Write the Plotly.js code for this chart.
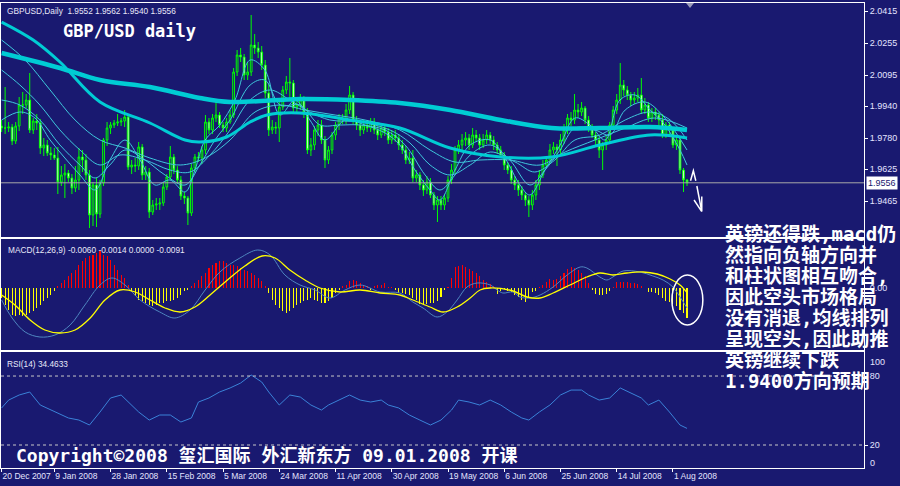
<!DOCTYPE html>
<html><head><meta charset="utf-8">
<script src="https://cdn.plot.ly/plotly-3.0.1.min.js"></script>
<style>html,body{margin:0;padding:0;background:#191970;}#chart{width:900px;height:486px;}</style>
</head><body><div id="chart"></div>
<script>
// ---------- DATA ----------
const openPrice = [1.9840,1.9830,1.9830,1.9835,1.9765,1.9840,1.9945,1.9945,1.9970,1.9820,
1.9865,1.9855,1.9730,1.9745,1.9705,1.9695,1.9680,1.9560,1.9595,1.9605,
1.9580,1.9530,1.9570,1.9685,1.9670,1.9595,1.9395,1.9545,1.9400,1.9555,
1.9770,1.9830,1.9845,1.9855,1.9860,1.9865,1.9885,1.9635,1.9645,1.9640,
1.9735,1.9595,1.9610,1.9410,1.9445,1.9450,1.9455,1.9535,1.9585,1.9685,
1.9620,1.9570,1.9490,1.9480,1.9405,1.9630,1.9685,1.9680,1.9720,1.9860,
1.9820,1.9880,1.9895,1.9845,1.9830,1.9860,1.9895,2.0110,2.0195,2.0185,
2.0095,2.0110,2.0245,2.0230,2.0210,2.0145,2.0005,1.9820,1.9835,1.9830,
1.9935,2.0020,2.0060,2.0055,1.9930,1.9945,1.9970,1.9910,1.9720,1.9745,
1.9820,1.9845,1.9770,1.9670,1.9720,1.9795,1.9845,1.9880,1.9870,1.9920,
1.9995,1.9870,1.9845,1.9820,1.9845,1.9830,1.9860,1.9820,1.9795,1.9830,
1.9810,1.9770,1.9795,1.9780,1.9745,1.9720,1.9670,1.9680,1.9580,1.9595,
1.9545,1.9520,1.9560,1.9495,1.9445,1.9470,1.9445,1.9480,1.9570,1.9620,
1.9720,1.9745,1.9770,1.9780,1.9745,1.9795,1.9780,1.9745,1.9770,1.9795,
1.9770,1.9745,1.9720,1.9695,1.9645,1.9620,1.9570,1.9545,1.9520,1.9495,
1.9470,1.9445,1.9495,1.9545,1.9595,1.9645,1.9670,1.9720,1.9735,1.9720,
1.9770,1.9820,1.9880,1.9870,1.9920,1.9910,1.9930,1.9870,1.9830,1.9795,
1.9770,1.9720,1.9745,1.9770,1.9845,1.9920,1.9970,2.0045,2.0020,1.9995,
1.9970,1.9980,1.9995,1.9920,1.9945,1.9880,1.9910,1.9895,1.9870,1.9795,
1.9845,1.9820,1.9745,1.9770,1.9620,1.9570];
const highPrice = [1.9870,2.0035,1.9860,1.9850,1.9860,1.9985,2.0010,2.0000,2.0105,1.9880,
1.9900,1.9875,1.9780,1.9770,1.9735,1.9730,1.9735,1.9640,1.9650,1.9620,
1.9600,1.9640,1.9730,1.9720,1.9700,1.9620,1.9560,1.9580,1.9570,1.9780,
1.9860,1.9860,1.9870,1.9900,1.9880,1.9920,1.9900,1.9670,1.9680,1.9760,
1.9750,1.9640,1.9630,1.9470,1.9480,1.9480,1.9560,1.9600,1.9740,1.9700,
1.9640,1.9590,1.9510,1.9490,1.9650,1.9700,1.9710,1.9740,1.9895,1.9880,
1.9900,1.9960,1.9910,1.9860,1.9880,1.9920,2.0130,2.0220,2.0230,2.0200,
2.0160,2.0395,2.0300,2.0260,2.0240,2.0170,2.0050,1.9870,1.9860,1.9960,
2.0040,2.0090,2.0180,2.0070,1.9980,2.0000,1.9990,1.9930,1.9780,1.9840,
1.9870,1.9870,1.9790,1.9740,1.9810,1.9860,1.9900,1.9900,1.9950,2.0040,
2.0010,1.9890,1.9870,1.9870,1.9870,1.9880,1.9880,1.9840,1.9850,1.9850,
1.9830,1.9820,1.9820,1.9800,1.9770,1.9740,1.9710,1.9720,1.9620,1.9610,
1.9570,1.9590,1.9580,1.9510,1.9490,1.9490,1.9500,1.9590,1.9650,1.9740,
1.9770,1.9800,1.9810,1.9800,1.9830,1.9820,1.9800,1.9800,1.9820,1.9810,
1.9790,1.9760,1.9740,1.9710,1.9660,1.9640,1.9590,1.9570,1.9540,1.9510,
1.9490,1.9520,1.9570,1.9620,1.9670,1.9690,1.9750,1.9760,1.9750,1.9800,
1.9850,1.9900,1.9910,2.0000,1.9950,1.9960,1.9940,1.9890,1.9850,1.9810,
1.9790,1.9760,1.9790,1.9860,1.9940,2.0000,2.0155,2.0070,2.0040,2.0010,
2.0010,2.0030,2.0080,1.9980,1.9960,1.9930,1.9930,1.9910,1.9900,1.9860,
1.9860,1.9830,1.9790,1.9780,1.9630,1.9575];
const lowPrice = [1.9810,1.9800,1.9810,1.9745,1.9750,1.9815,1.9900,1.9930,1.9805,1.9800,
1.9820,1.9700,1.9690,1.9690,1.9670,1.9670,1.9500,1.9540,1.9480,1.9560,
1.9500,1.9510,1.9520,1.9610,1.9570,1.9330,1.9340,1.9335,1.9380,1.9540,
1.9740,1.9800,1.9830,1.9840,1.9840,1.9835,1.9620,1.9600,1.9610,1.9620,
1.9570,1.9570,1.9380,1.9395,1.9420,1.9420,1.9440,1.9520,1.9570,1.9600,
1.9550,1.9470,1.9450,1.9345,1.9390,1.9610,1.9660,1.9650,1.9700,1.9800,
1.9800,1.9860,1.9830,1.9810,1.9810,1.9850,1.9880,2.0090,2.0160,2.0070,
2.0070,2.0090,2.0200,2.0180,2.0120,1.9980,1.9790,1.9800,1.9800,1.9760,
1.9920,2.0000,1.9970,1.9900,1.9900,1.9920,1.9880,1.9700,1.9690,1.9720,
1.9790,1.9750,1.9630,1.9650,1.9700,1.9770,1.9820,1.9850,1.9850,1.9900,
1.9850,1.9820,1.9790,1.9800,1.9810,1.9810,1.9800,1.9770,1.9780,1.9790,
1.9750,1.9750,1.9760,1.9720,1.9700,1.9650,1.9650,1.9560,1.9560,1.9520,
1.9490,1.9500,1.9480,1.9420,1.9360,1.9420,1.9420,1.9460,1.9550,1.9600,
1.9700,1.9720,1.9740,1.9720,1.9730,1.9760,1.9720,1.9730,1.9750,1.9750,
1.9720,1.9700,1.9680,1.9620,1.9600,1.9550,1.9520,1.9490,1.9470,1.9440,
1.9385,1.9420,1.9470,1.9520,1.9580,1.9630,1.9650,1.9700,1.9640,1.9700,
1.9750,1.9800,1.9840,1.9850,1.9880,1.9890,1.9850,1.9810,1.9780,1.9740,
1.9680,1.9620,1.9720,1.9750,1.9820,1.9900,1.9950,1.9990,1.9970,1.9940,
1.9950,1.9960,1.9900,1.9900,1.9860,1.9860,1.9870,1.9840,1.9780,1.9780,
1.9800,1.9730,1.9720,1.9600,1.9510,1.9540];
const closePrice = [1.9830,1.9830,1.9835,1.9765,1.9840,1.9945,1.9945,1.9970,1.9820,1.9865,
1.9855,1.9730,1.9745,1.9705,1.9695,1.9680,1.9560,1.9595,1.9605,1.9580,
1.9530,1.9570,1.9685,1.9670,1.9595,1.9395,1.9545,1.9400,1.9555,1.9770,
1.9830,1.9845,1.9855,1.9860,1.9865,1.9885,1.9635,1.9645,1.9640,1.9735,
1.9595,1.9610,1.9410,1.9445,1.9450,1.9455,1.9535,1.9585,1.9685,1.9620,
1.9570,1.9490,1.9480,1.9405,1.9630,1.9685,1.9680,1.9720,1.9860,1.9820,
1.9880,1.9895,1.9845,1.9830,1.9860,1.9895,2.0110,2.0195,2.0185,2.0095,
2.0110,2.0245,2.0230,2.0210,2.0145,2.0005,1.9820,1.9835,1.9830,1.9935,
2.0020,2.0060,2.0055,1.9930,1.9945,1.9970,1.9910,1.9720,1.9745,1.9820,
1.9845,1.9770,1.9670,1.9720,1.9795,1.9845,1.9880,1.9870,1.9920,1.9995,
1.9870,1.9845,1.9820,1.9845,1.9830,1.9860,1.9820,1.9795,1.9830,1.9810,
1.9770,1.9795,1.9780,1.9745,1.9720,1.9670,1.9680,1.9580,1.9595,1.9545,
1.9520,1.9560,1.9495,1.9445,1.9470,1.9445,1.9480,1.9570,1.9620,1.9720,
1.9745,1.9770,1.9780,1.9745,1.9795,1.9780,1.9745,1.9770,1.9795,1.9770,
1.9745,1.9720,1.9695,1.9645,1.9620,1.9570,1.9545,1.9520,1.9495,1.9470,
1.9445,1.9495,1.9545,1.9595,1.9645,1.9670,1.9720,1.9735,1.9720,1.9770,
1.9820,1.9880,1.9870,1.9920,1.9910,1.9930,1.9870,1.9830,1.9795,1.9770,
1.9720,1.9745,1.9770,1.9845,1.9920,1.9970,2.0045,2.0020,1.9995,1.9970,
1.9980,1.9995,1.9920,1.9945,1.9880,1.9910,1.9895,1.9870,1.9795,1.9845,
1.9820,1.9745,1.9770,1.9620,1.9570,1.9556];

// moving averages (bar index, price) read at sample points
const maFastX = [0,5.2,9.5,13.8,18,22.3,26.6,30.8,35.1,39.4,43.6,47.9,52.2,55,57.9,62.1,66.4,70.7,74.9,79.2,83.5,87.7,92,97.7,103.4,109.1,113.3,117.6,121.9,124.7,129,133.3,139,143.2,147.5,150.3,154.6,158.9,163.1,167.4,171.7,175.9,180.2,184.5,188.7,193,195];
const maFastY = [1.9870,1.9910,1.9880,1.9770,1.9680,1.9595,1.9520,1.9670,1.9770,1.9670,1.9545,1.9570,1.9510,1.9620,1.9770,1.9845,1.9970,2.0170,2.0120,1.9895,1.9970,1.9870,1.9770,1.9870,1.9845,1.9805,1.9745,1.9620,1.9520,1.9470,1.9620,1.9745,1.9770,1.9680,1.9545,1.9495,1.9620,1.9745,1.9880,1.9845,1.9770,1.9970,1.9995,1.9920,1.9845,1.9720,1.9645];
const maMidX = [0,5.2,10.9,16.6,22.3,26.6,30.8,35.1,40.8,46.5,52.2,56.4,60.7,65,70.7,74.9,79.2,84.9,90.6,96.3,102,109.1,114.8,120.5,124.7,129,133.3,139,144.6,150.3,154.6,158.9,163.1,168.8,173.1,177.4,183.1,188.7,195];
const maMidY = [1.9970,1.9945,1.9870,1.9745,1.9645,1.9580,1.9645,1.9720,1.9670,1.9595,1.9545,1.9645,1.9770,1.9870,2.0045,2.0070,1.9945,1.9945,1.9845,1.9845,1.9845,1.9820,1.9745,1.9595,1.9520,1.9595,1.9695,1.9745,1.9670,1.9545,1.9620,1.9720,1.9830,1.9820,1.9795,1.9920,1.9960,1.9880,1.9720];
const maSlowX = [0,5.2,10.9,16.6,22.3,28,33.7,40.8,47.9,53.6,59.3,65,70.7,76.4,82,87.7,93.4,102,110.5,116.2,121.9,127.6,133.3,139,146.1,151.7,157.4,163.1,170.2,177.4,184.5,190.2,195];
const maSlowY = [2.0120,2.0045,1.9945,1.9820,1.9720,1.9645,1.9695,1.9670,1.9620,1.9610,1.9695,1.9820,1.9970,2.0020,1.9970,1.9910,1.9870,1.9860,1.9820,1.9755,1.9645,1.9595,1.9645,1.9710,1.9660,1.9610,1.9670,1.9770,1.9795,1.9870,1.9910,1.9870,1.9770];
const maSlowerX = [0,6.7,13.8,20.9,28,35.1,42.2,50.8,57.9,65,72.1,79.2,86.3,94.9,103.4,113.3,121.9,129,136.1,144.6,153.2,160.3,168.8,177.4,185.9,195];
const maSlowerY = [2.0270,2.0170,2.0020,1.9870,1.9770,1.9730,1.9680,1.9645,1.9680,1.9770,1.9910,1.9945,1.9920,1.9895,1.9870,1.9820,1.9720,1.9660,1.9670,1.9670,1.9645,1.9710,1.9770,1.9830,1.9880,1.9830];
const maLongX = [0,16.6,28,42.2,56.4,65,84.9,99.1,113.3,127.6,142,156.5,170.2,184.5,195];
const maLongY = [2.0205,2.0130,2.0070,2.0035,1.9980,1.9960,1.9975,1.9970,1.9955,1.9920,1.9870,1.9830,1.9830,1.9835,1.9820];
const maMedX = [0,9,16.6,28,42.2,52.2,56.4,64,70.7,75.5,84.9,99.1,113.3,127.6,142,156.5,170.2,184.5,195];
const maMedY = [2.0360,2.0270,2.0160,1.9960,1.9855,1.9770,1.9760,1.9785,1.9860,1.9895,1.9905,1.9870,1.9830,1.9730,1.9685,1.9685,1.9745,1.9795,1.9780];

// MACD
const macdHist = [-0.0030,-0.0050,-0.0065,-0.0080,-0.0085,-0.0080,-0.0085,-0.0080,-0.0075,-0.0070,
-0.0060,-0.0050,-0.0040,-0.0030,-0.0020,-0.0010,0.0005,0.0015,0.0025,0.0035,
0.0045,0.0055,0.0070,0.0080,0.0090,0.0095,0.0100,0.0105,0.0110,0.0100,
0.0095,0.0085,0.0070,0.0055,0.0040,0.0030,0.0010,-0.0010,-0.0025,-0.0035,
-0.0040,-0.0045,-0.0050,-0.0055,-0.0050,-0.0045,-0.0045,-0.0040,-0.0040,-0.0035,
-0.0030,-0.0020,-0.0010,-0.0005,0.0005,0.0015,0.0025,0.0035,0.0045,0.0060,
0.0070,0.0075,0.0080,0.0080,0.0075,0.0070,0.0070,0.0065,0.0060,0.0055,
0.0050,0.0045,0.0040,0.0030,0.0020,0.0005,-0.0015,-0.0035,-0.0050,-0.0060,
-0.0070,-0.0075,-0.0070,-0.0060,-0.0050,-0.0045,-0.0040,-0.0035,-0.0030,-0.0035,
-0.0040,-0.0045,-0.0045,-0.0040,-0.0030,-0.0015,-0.0005,0.0005,0.0010,0.0020,
0.0025,0.0020,0.0015,0.0010,0.0005,-0.0005,0.0005,0.0010,0.0009,0.0016,
0.0003,0.0003,-0.0005,-0.0014,-0.0015,-0.0017,-0.0022,-0.0030,-0.0037,-0.0048,
-0.0048,-0.0048,-0.0045,-0.0045,-0.0040,-0.0027,-0.0005,0.0003,0.0030,0.0063,
0.0066,0.0069,0.0062,0.0056,0.0050,0.0044,0.0035,0.0024,0.0018,0.0012,
0.0005,-0.0018,-0.0010,-0.0003,-0.0008,-0.0012,-0.0020,-0.0028,-0.0035,-0.0041,
-0.0030,-0.0012,-0.0009,0.0003,0.0009,0.0018,0.0027,0.0024,0.0027,0.0036,
0.0044,0.0056,0.0064,0.0060,0.0054,0.0045,0.0036,0.0015,-0.0005,-0.0017,
-0.0020,-0.0021,-0.0017,-0.0010,0.0003,0.0018,0.0018,0.0018,0.0017,0.0015,
0.0014,0.0013,0.0005,0.0000,-0.0012,-0.0012,-0.0015,-0.0021,-0.0030,-0.0039,
-0.0042,-0.0048,-0.0055,-0.0066,-0.0075,-0.0091];
const macdLineX = [0,3,6.7,10.9,15.2,19.5,23.7,28,31.4,35.1,39.4,45,49.3,53.6,57.9,62.1,67.8,72.9,76.4,80.6,84.9,89.2,93.4,97.7,102,107.7,113.3,117,119.9,123.9,126.7,129.6,132.4,135.3,139,141,142.6,145.5,147.5,150.3,153.2,156.9,160.9,164.6,166.5,170.2,172.2,173.9,176.8,181.6,185.3,188.2,191,193,195];
const macdLineY = [-0.0036,-0.0090,-0.0132,-0.0147,-0.0141,-0.0111,-0.0051,0.0009,0.0030,0.0009,-0.0036,-0.0072,-0.0090,-0.0066,-0.0006,0.0048,0.0090,0.0114,0.0099,0.0039,0.0009,-0.0006,-0.0030,-0.0006,0.0009,-0.0012,-0.0015,-0.0042,-0.0060,-0.0087,-0.0072,-0.0036,0.0003,0.0015,0.0009,-0.0006,-0.0015,-0.0012,-0.0027,-0.0030,-0.0021,0.0003,0.0039,0.0063,0.0060,0.0033,0.0024,0.0033,0.0051,0.0048,0.0036,0.0024,0.0003,-0.0027,-0.0060];
const signalX = [0,3.8,8.1,12.3,16.6,20.9,25.2,29.4,33.7,38,42.2,46.5,50.8,55,59.3,63.6,69.2,74.1,77.8,82,86.3,90.6,96.3,102,107.7,113.3,117,121.9,125.6,129.6,133.3,136.1,139,145.5,149.5,153.2,156.9,161.7,166.5,170.2,173.9,177.9,182.5,186.5,190.2,193,195];
const signalY = [-0.0021,-0.0051,-0.0096,-0.0126,-0.0135,-0.0126,-0.0090,-0.0036,-0.0006,-0.0012,-0.0036,-0.0060,-0.0072,-0.0057,-0.0021,0.0018,0.0066,0.0096,0.0090,0.0054,0.0024,0.0000,-0.0012,-0.0006,-0.0015,-0.0021,-0.0036,-0.0057,-0.0072,-0.0057,-0.0030,-0.0006,0.0000,-0.0009,-0.0027,-0.0030,-0.0015,0.0009,0.0033,0.0045,0.0039,0.0045,0.0048,0.0042,0.0027,0.0009,-0.0014];

// RSI(14)
const rsiX = [0,2,5,8,11,14,17,19,22,25,28,31,34,37,39,42,45,48,51,54,56,59,62,65,68,71,74,76,79,82,85,88,91,93,96,99,102,105,108,110,113,116,119,122,125,128,130,133,136,139,142,145,148,150,153,156,159,162,165,167,170,173,176,179,182,184,187,190,193,195];
const rsiY = [52.2,59.1,63.5,66.1,54.8,50.4,46.1,43.5,41.7,37.4,48.7,60.9,63.5,54.8,48.7,41.7,46.1,46.1,40.0,43.5,57.4,60.9,66.1,69.6,73.9,80.9,74.8,66.1,54.8,63.5,61.7,54.8,50.4,54.8,59.1,63.5,59.1,57.4,59.1,54.8,52.2,46.1,41.7,37.4,41.7,50.4,59.1,57.4,54.8,59.1,54.8,48.7,43.5,41.7,48.7,54.8,63.5,67.8,67.8,63.5,59.1,60.9,69.6,65.2,60.9,54.8,59.1,48.7,37.4,34.46];

// axis labels
const dateLabels = ['20 Dec 2007','9 Jan 2008','28 Jan 2008','15 Feb 2008','5 Mar 2008','24 Mar 2008','11 Apr 2008','30 Apr 2008','19 May 2008','6 Jun 2008','25 Jun 2008','14 Jul 2008','1 Aug 2008'];
const dateTickIndex = [0,15,31,47,63,79,95,111,127,143,159,175,191];
const priceTicks = [2.0415,2.0255,2.0095,1.9940,1.9780,1.9625,1.9465];
const rsiLevels = [80,20];
const lastPrice = 1.9556;

const noteLines = ['英镑还得跌,macd仍','然指向负轴方向并','和柱状图相互吻合,','因此空头市场格局','没有消退,均线排列','呈现空头,因此助推','英镑继续下跌','1.9400方向预期'];

// ---------- LAYOUT ----------
const BG = '#191970';
const W = 900, H = 486, ML = 1, MR = 36, MT = 3, MB = 18;
const PW = W - ML - MR, PH = H - MT - MB;
function pp(px, py) { return { x: (px - ML) / PW, y: (H - MB - py) / PH }; }
const idx = closePrice.map((_, i) => i);
const XR = [-0.17, 245.35];
const sans = 'Liberation Sans, Arial, sans-serif';
const yTickFont = { family: sans, size: 9, color: '#e4e4ff' };
const xTickFont = { family: sans, size: 8.5, color: '#e4e4ff' };
const infoFont = { family: sans, size: 8.3, color: '#e8e8f8' };
const monoCJK = 'DejaVu Sans Mono, Noto Sans CJK SC, monospace';

function label(px, py, text, font, extra) {
  const p = pp(px, py);
  return Object.assign({ xref: 'paper', yref: 'paper', x: p.x, y: p.y, xanchor: 'left', yanchor: 'middle',
    text: text, showarrow: false, font: font }, extra || {});
}

const traces = [];
traces.push({
  type: 'candlestick', x: idx, open: openPrice, high: highPrice, low: lowPrice, close: closePrice,
  xaxis: 'x3', yaxis: 'y',
  increasing: { line: { color: '#00ff00', width: 1 }, fillcolor: BG },
  decreasing: { line: { color: '#00ff00', width: 1 }, fillcolor: '#ffffff' },
  whiskerwidth: 0, hoverinfo: 'skip'
});
function maTrace(x, y, w, c) {
  return { type: 'scatter', mode: 'lines', x: x, y: y, xaxis: 'x3', yaxis: 'y',
    line: { color: c, width: w, shape: 'spline', smoothing: 1 }, hoverinfo: 'skip' };
}
traces.push(maTrace(maFastX, maFastY, 1, '#3ec8dc'));
traces.push(maTrace(maMidX, maMidY, 1, '#3ec8dc'));
traces.push(maTrace(maSlowX, maSlowY, 1, '#3ec8dc'));
traces.push(maTrace(maSlowerX, maSlowerY, 1, '#3ec8dc'));
traces.push(maTrace(maMedX, maMedY, 3, '#00ccd4'));
traces.push(maTrace(maLongX, maLongY, 4.5, '#00ccd4'));

traces.push({ type: 'bar', x: idx, y: macdHist, xaxis: 'x2', yaxis: 'y2', width: 0.3,
  marker: { color: macdHist.map(v => v >= 0 ? '#ff0000' : '#ffff00'), line: { width: 0 } }, hoverinfo: 'skip' });
traces.push({ type: 'scatter', mode: 'lines', x: macdLineX, y: macdLineY, xaxis: 'x2', yaxis: 'y2',
  line: { color: '#4f86c0', width: 1, shape: 'spline' }, hoverinfo: 'skip' });
traces.push({ type: 'scatter', mode: 'lines', x: signalX, y: signalY, xaxis: 'x2', yaxis: 'y2',
  line: { color: '#ffff00', width: 1.3, shape: 'spline' }, hoverinfo: 'skip' });
traces.push({ type: 'scatter', mode: 'lines', x: rsiX, y: rsiY, xaxis: 'x', yaxis: 'y3',
  line: { color: '#3a82d8', width: 1 }, hoverinfo: 'skip' });

const axLine = { showline: true, mirror: true, linecolor: '#ffffff', linewidth: 1, showgrid: false, zeroline: false };
const layout = {
  width: W, height: H, margin: { l: ML, r: MR, t: MT, b: MB },
  paper_bgcolor: BG, plot_bgcolor: BG, showlegend: false, hovermode: false, bargap: 0,
  xaxis: Object.assign({}, axLine, { domain: [0, 1], anchor: 'y3', range: XR, rangeslider: { visible: false },
    tickmode: 'array', tickvals: dateTickIndex, ticktext: dateLabels, ticks: 'outside', ticklen: 3, tickangle: 0,
    tickcolor: '#ffffff', tickfont: xTickFont, ticklabelposition: 'outside right' }),
  xaxis2: Object.assign({}, axLine, { domain: [0, 1], anchor: 'y2', range: XR, showticklabels: false, ticks: '', rangeslider: { visible: false } }),
  xaxis3: Object.assign({}, axLine, { domain: [0, 1], anchor: 'y', range: XR, showticklabels: false, ticks: '', rangeslider: { visible: false } }),
  yaxis: Object.assign({}, axLine, { domain: [(H - MB - 237) / PH, 1], anchor: 'x3', side: 'right', range: [1.9285, 2.0455],
    tickmode: 'array', tickvals: priceTicks, ticktext: priceTicks.map(v => v.toFixed(4)),
    ticks: 'outside', ticklen: 3, tickcolor: '#ffffff', tickfont: yTickFont }),
  yaxis2: Object.assign({}, axLine, { domain: [(H - MB - 350) / PH, (H - MB - 239) / PH], anchor: 'x2', side: 'right',
    range: [-0.0186, 0.0147], tickmode: 'array', tickvals: [0], ticktext: ['0.00'],
    ticks: 'outside', ticklen: 3, tickcolor: '#ffffff', tickfont: yTickFont }),
  yaxis3: Object.assign({}, axLine, { domain: [0, (H - MB - 352) / PH], anchor: 'x', side: 'right', range: [0, 100.9],
    tickmode: 'array', tickvals: rsiLevels, ticktext: rsiLevels.map(String),
    ticks: 'outside', ticklen: 3, tickcolor: '#ffffff', tickfont: yTickFont }),
  shapes: [
    { type: 'line', xref: 'paper', yref: 'y', x0: 0, x1: 1, y0: lastPrice, y1: lastPrice, line: { color: '#a8a8a8', width: 1 } },
    { type: 'line', xref: 'paper', yref: 'y3', x0: 0, x1: 1, y0: 80, y1: 80, line: { color: '#c8c8c8', width: 1, dash: '3px,3px' } },
    { type: 'line', xref: 'paper', yref: 'y3', x0: 0, x1: 1, y0: 20, y1: 20, line: { color: '#c8c8c8', width: 1, dash: '3px,3px' } },
    { type: 'circle', xref: 'x2', yref: 'y2', x0: 190.7, x1: 199.5, y0: -0.0111, y1: 0.0039, line: { color: '#ffffff', width: 1.5 } },
    { type: 'path', xref: 'x3', yref: 'y', line: { color: '#ffffff', width: 1.5 },
      path: 'M196.0,1.9566 L196.8,1.9616 L197.5,1.9566 M197.8,1.9540 L199.2,1.9412 M197.0,1.9470 L199.2,1.9412 M199.2,1.9487 L199.2,1.9412' },
    { type: 'path', xref: 'paper', yref: 'paper', fillcolor: '#9a9ab8', line: { width: 0 },
      path: 'M' + pp(686, 3).x + ',' + pp(686, 3).y + ' L' + pp(694, 3).x + ',' + pp(694, 3).y + ' L' + pp(690, 8).x + ',' + pp(690, 8).y + ' Z' }
  ],
  annotations: [
    label(5, 11, 'GBPUSD,Daily\u00a0\u00a01.9552 1.9562 1.9540 1.9556', infoFont),
    label(61, 31, 'GBP/USD daily', { family: 'DejaVu Sans Mono, monospace', size: 17, color: '#ffffff', weight: 'bold' }),
    label(6, 250, 'MACD(12,26,9) -0.0060 -0.0014 0.0000 -0.0091', infoFont),
    label(5, 364, 'RSI(14) 34.4633', infoFont),
    label(868, 362, '100', yTickFont),
    label(868, 463, '0', yTickFont),
    label(14, 455, 'Copyright©2008 玺汇国际 外汇新东方 09.01.2008 开课', { family: monoCJK, size: 18, color: '#ffffff', weight: 'bold' }),
    { xref: 'paper', yref: 'y', x: 1, y: lastPrice, xanchor: 'left', yanchor: 'middle', xshift: 2, showarrow: false,
      text: lastPrice.toFixed(4), bgcolor: '#ffffff', borderpad: 1, font: { family: sans, size: 9, color: '#191970' } }
  ].concat(noteLines.map((t, k) => label(723, 234 + 21 * k, t, { family: monoCJK, size: 19, color: '#ffffff', weight: 'bold' })))
};

Plotly.newPlot('chart', traces, layout, { staticPlot: true, displayModeBar: false });
</script>
</body></html>
